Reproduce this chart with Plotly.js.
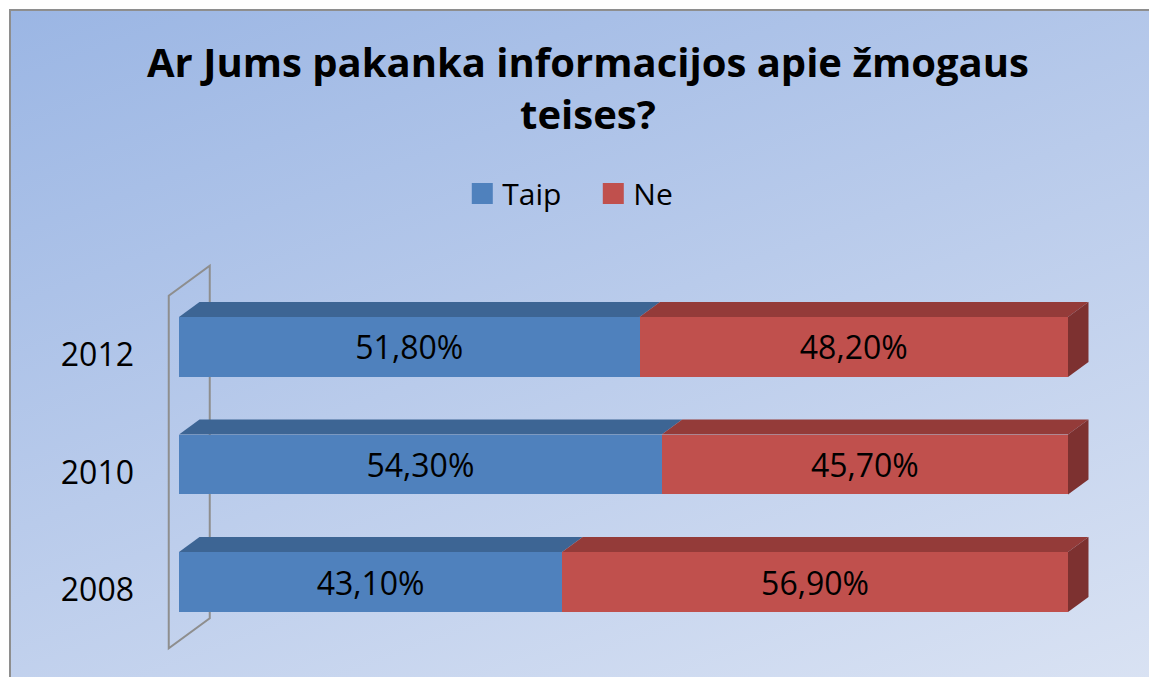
<!DOCTYPE html>
<html>
<head>
<meta charset="utf-8">
<script src="https://cdn.plot.ly/plotly-3.0.1.min.js"></script>
<style>
  html, body { margin:0; padding:0; background:#ffffff; width:1149px; height:677px; overflow:hidden; }
  #bg { position:absolute; left:9px; top:9px; width:1200px; height:720px;
        border-left:2px solid #8e8e8e; border-top:2px solid #8e8e8e;
        background: linear-gradient(160deg, #9bb6e4 0%, #b9cbeb 45%, #dde5f4 100%); }
  #chart { position:absolute; left:0; top:0; width:1149px; height:677px; }
</style>
</head>
<body>
<div id="bg"></div>
<div id="chart"></div>
<script>
// ---- data ----
const years = ['2008', '2010', '2012'];
const taip = [43.1, 54.3, 51.8];
const ne = [56.9, 45.7, 48.2];
const seriesNames = ['Taip', 'Ne'];
const titleText = 'Ar Jums pakanka informacijos apie žmogaus<br>teises?';

// ---- style ----
const frontColors = ['#4f81bd', '#c0504d'];
const topColors = ['#3d6594', '#943b39'];
const sideColors = ['#3a5f8c', '#7d3130'];
const FONT = 'Open Sans, Lato, sans-serif';

const W = 1149, H = 677;
const M = {l: 150, r: 29, t: 250, b: 17};
const plotW = W - M.l - M.r, plotH = H - M.t - M.b;
const xRange = [-3.262, 105.85];
const yRange = [-0.6638, 2.8255];
const ux = (xRange[1] - xRange[0]) / plotW;   // data units per px
const uy = (yRange[1] - yRange[0]) / plotH;
const barWidth = 0.51;
const wallDepth = [41, 30];     // px
const barDepth = [20.5, 15];    // px
const barPlane = 0.25;          // bar front at this fraction of wall depth

const series = [taip, ne];
const yIdx = years.map((_, i) => i);

const traces = series.map((vals, s) => ({
  type: 'bar', orientation: 'h',
  name: seriesNames[s],
  x: vals, y: yIdx, width: barWidth,
  marker: {color: frontColors[s], line: {width: 0}},
  texttemplate: '%{x:.2f}%',
  textposition: 'inside', insidetextanchor: 'middle',
  textfont: {family: FONT, size: 32, color: '#000000'},
  constraintext: 'none',
  hoverinfo: 'skip'
}));

// 3D shapes derived from data
const shapes = [];
const dxW = wallDepth[0] * ux, dyW = wallDepth[1] * uy;
const xf = 0 - barPlane * dxW;
const yfb = -0.5 - barPlane * dyW;
const yft = (years.length - 0.5) - barPlane * dyW;
shapes.push({
  type: 'path', layer: 'below', xref: 'x', yref: 'y',
  path: `M${xf},${yfb} L${xf},${yft} L${xf + dxW},${yft + dyW} L${xf + dxW},${yfb + dyW} Z`,
  line: {color: '#8e8e8e', width: 2}, fillcolor: 'rgba(0,0,0,0)'
});
const dxB = barDepth[0] * ux, dyB = barDepth[1] * uy;
yIdx.forEach((yi) => {
  let cum = 0;
  const yt = yi + barWidth / 2, yb = yi - barWidth / 2;
  series.forEach((vals, s) => {
    const x0 = cum, x1 = cum + vals[yi];
    shapes.push({
      type: 'path', layer: 'below', xref: 'x', yref: 'y',
      path: `M${x0},${yt} L${x1},${yt} L${x1 + dxB},${yt + dyB} L${x0 + dxB},${yt + dyB} Z`,
      line: {width: 0}, fillcolor: topColors[s]
    });
    if (s === series.length - 1) {
      shapes.push({
        type: 'path', layer: 'below', xref: 'x', yref: 'y',
        path: `M${x1},${yb} L${x1},${yt} L${x1 + dxB},${yt + dyB} L${x1 + dxB},${yb + dyB} Z`,
        line: {width: 0}, fillcolor: sideColors[s]
      });
    }
    cum = x1;
  });
});

const layout = {
  width: W, height: H,
  margin: M,
  paper_bgcolor: 'rgba(0,0,0,0)', plot_bgcolor: 'rgba(0,0,0,0)',
  separators: ', ',
  barmode: 'stack',
  font: {family: FONT, color: '#000000'},
  title: {
    text: titleText,
    font: {family: FONT, size: 40, weight: 'bold', color: '#000000'},
    x: 0.5117, xref: 'container', xanchor: 'center',
    y: 0.886, yref: 'container', yanchor: 'top'
  },
  showlegend: true,
  legend: {
    orientation: 'h', x: 0.457, xanchor: 'center', y: 1.138, yanchor: 'middle',
    font: {family: FONT, size: 30, color: '#000000'},
    entrywidth: 86, entrywidthmode: 'pixels',
    bgcolor: 'rgba(0,0,0,0)', traceorder: 'normal', itemclick: false
  },
  xaxis: {range: xRange, visible: false, fixedrange: true},
  yaxis: {
    range: yRange, tickvals: yIdx, ticktext: years,
    showgrid: false, zeroline: false, showline: false, ticks: '',
    tickfont: {family: FONT, size: 32, color: '#000000'},
    ticklabelstandoff: 15, ticklabelshift: 8, fixedrange: true
  },
  shapes: shapes
};

Plotly.newPlot('chart', traces, layout, {staticPlot: true, displayModeBar: false}).then(gd => {
  gd.querySelectorAll('.legendpoints path').forEach(p => {
    p.setAttribute('transform', (p.getAttribute('transform') || '') + ' scale(1.75)');
  });
});
</script>
</body>
</html>
